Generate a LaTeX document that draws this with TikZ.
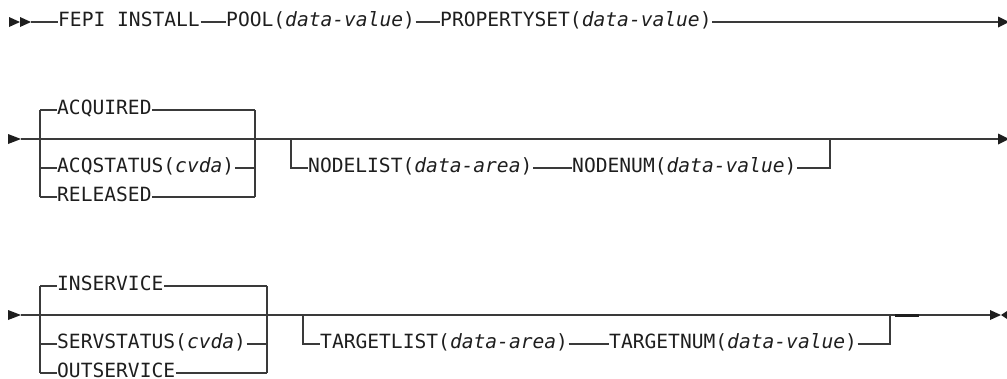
\documentclass[tikz,border=0pt]{standalone}
\usepackage{fontspec}
\setmainfont{DejaVu Sans Mono}
\definecolor{ink}{HTML}{1E1E1E}
\definecolor{rule}{HTML}{3A3A3A}
\tikzset{
  kw/.style={anchor=west, inner xsep=0.5pt, inner ysep=0pt, text height=9pt, text depth=0pt,
             font=\fontsize{19.6pt}{21pt}\selectfont, text=ink},
  ln/.style={draw=rule, line width=1.3pt},
  thk/.style={draw=ink, line width=3pt},
  tri/.style={fill=ink, draw=none}
}
\begin{document}
\begin{tikzpicture}[x=1pt,y=-1pt]
\clip (0,0) rectangle (1007,378);
\useasboundingbox (0,0) rectangle (1007,378);
% ---------- row 1 ----------
\coordinate (r1s) at (31,22);
\coordinate (r1e) at (999,22);
\fill[tri] (9,17) -- (20,22) -- (9,27) -- cycle;
\fill[tri] (20,17) -- (31,22) -- (20,27) -- cycle;
\node[kw] (fepi) at (57.5,22) {FEPI INSTALL};
\node[kw] (pool) at (225.5,22) {POOL(\textit{data-value})};
\node[kw] (prop) at (439.5,22) {PROPERTYSET(\textit{data-value})};
\draw[ln] (r1s) -- (fepi.west);
\draw[ln] (fepi.east) -- (pool.west);
\draw[ln] (pool.east) -- (prop.west);
\draw[ln] (prop.east) -- (r1e);
\fill[tri] (998,16.5) -- (1009,22) -- (998,27.5) -- cycle;
% ---------- row 2 ----------
\coordinate (r2s) at (21,139);
\coordinate (r2e) at (999,139);
\fill[tri] (8,134) -- (21,139) -- (8,144) -- cycle;
\draw[ln] (r2s) -- (r2e);
\fill[tri] (998,133.5) -- (1009,139) -- (998,144.5) -- cycle;
\coordinate (a1) at (40,110);
\coordinate (a2) at (40,197);
\coordinate (b1) at (255,110);
\coordinate (b2) at (255,197);
\node[kw] (acq) at (56.5,110) {ACQUIRED};
\node[kw] (acqs) at (56.5,168) {ACQSTATUS(\textit{cvda})};
\node[kw] (rel) at (56.5,197) {RELEASED};
\draw[ln] (a1) -- (a2);
\draw[ln] (b1) -- (b2);
\draw[ln] (a1) -- (acq.west);
\draw[ln] (acq.east) -- (b1);
\draw[ln] (40,168) -- (acqs.west);
\draw[ln] (acqs.east) -- (255,168);
\draw[ln] (a2) -- (rel.west);
\draw[ln] (rel.east) -- (b2);
\coordinate (o1) at (291,139);
\coordinate (o2) at (830,139);
\node[kw] (nl) at (307.5,168) {NODELIST(\textit{data-area})};
\node[kw] (nn) at (571.5,168) {NODENUM(\textit{data-value})};
\draw[ln] (o1) |- (nl.west);
\draw[ln] (nl.east) -- (nn.west);
\draw[ln] (nn.east) -| (o2);
% ---------- row 3 ----------
\coordinate (r3s) at (21,315);
\coordinate (r3e) at (991,315);
\fill[tri] (8,310) -- (21,315) -- (8,320) -- cycle;
\draw[ln] (r3s) -- (r3e);
\coordinate (c1) at (40,286);
\coordinate (c2) at (40,373);
\coordinate (d1) at (267,286);
\coordinate (d2) at (267,373);
\node[kw] (ins) at (56.5,286) {INSERVICE};
\node[kw] (srv) at (56.5,344) {SERVSTATUS(\textit{cvda})};
\node[kw] (outs) at (56.5,373) {OUTSERVICE};
\draw[ln] (c1) -- (c2);
\draw[ln] (d1) -- (d2);
\draw[ln] (c1) -- (ins.west);
\draw[ln] (ins.east) -- (d1);
\draw[ln] (40,344) -- (srv.west);
\draw[ln] (srv.east) -- (267,344);
\draw[ln] (c2) -- (outs.west);
\draw[ln] (outs.east) -- (d2);
\coordinate (p1) at (303,315);
\coordinate (p2) at (890,315);
\node[kw] (tl) at (319.5,344) {TARGETLIST(\textit{data-area})};
\node[kw] (tn) at (608.5,344) {TARGETNUM(\textit{data-value})};
\draw[ln] (p1) |- (tl.west);
\draw[ln] (tl.east) -- (tn.west);
\draw[ln] (tn.east) -| (p2);
\draw[thk] (895,315) -- (919,315);
\fill[tri] (990,310) -- (1001,315) -- (990,320) -- cycle;
\fill[tri] (1007,311) -- (1001,315) -- (1007,319) -- cycle;
\end{tikzpicture}
\end{document}
